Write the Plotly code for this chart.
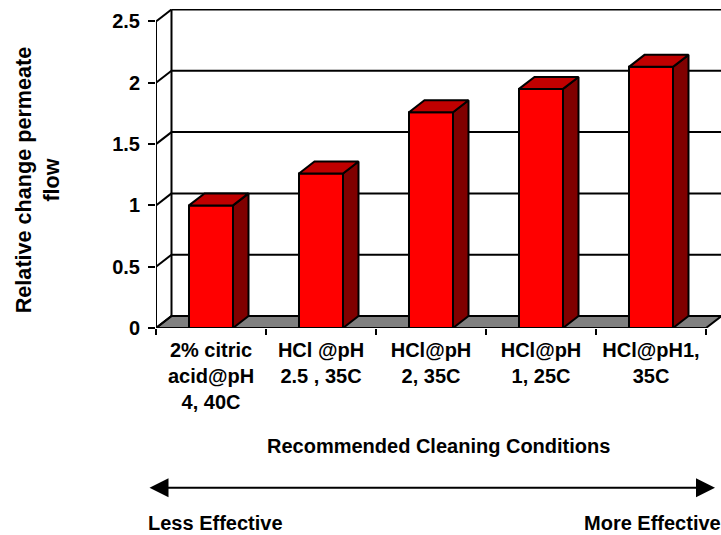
import plotly.graph_objects as go

categories = ["2% citric<br>acid@pH<br>4, 40C", "HCl @pH<br>2.5 , 35C", "HCl@pH<br>2, 35C",
              "HCl@pH<br>1, 25C", "HCl@pH1,<br>35C"]
values = [1.0, 1.26, 1.76, 1.95, 2.13]
y_ticks = [0, 0.5, 1, 1.5, 2, 2.5]
y_labels = ["0", "0.5", "1", "1.5", "2", "2.5"]

W, H = 721, 535
L, R_PX, T, B_PX = 156, 721, 9, 328.5
PX_X = 110.0   # pixels per category
PX_Y = 122.8   # pixels per unit
DX = 15.5 / PX_X
DY = 12.0 / PX_Y
BAR = 0.4
n = len(categories)
xmax = (R_PX - L) / PX_X
ymax = (B_PX - T) / PX_Y
BLACK = "#000000"
LW = 2
TXT = dict(family="Liberation Sans", size=20, color=BLACK, weight="bold")

fig = go.Figure()
centers = [i + 0.5 for i in range(n)]

# front faces
fig.add_trace(go.Bar(x=centers, y=values, width=BAR, marker=dict(color="#ff0000", line=dict(color=BLACK, width=LW)),
                     hoverinfo="skip", showlegend=False))
# side and top faces
for c, v in zip(centers, values):
    r, l = c + BAR / 2, c - BAR / 2
    fig.add_trace(go.Scatter(x=[r, r + DX, r + DX, r, r], y=[0, DY, v + DY, v, 0], mode="lines", fill="toself",
                             fillcolor="#800000", line=dict(color=BLACK, width=LW), hoverinfo="skip",
                             showlegend=False, cliponaxis=False))
    fig.add_trace(go.Scatter(x=[l, r, r + DX, l + DX, l], y=[v, v, v + DY, v + DY, v], mode="lines", fill="toself",
                             fillcolor="#c00000", line=dict(color=BLACK, width=LW), hoverinfo="skip",
                             showlegend=False, cliponaxis=False))

shapes = []
line = dict(color=BLACK, width=LW)
# floor
shapes.append(dict(type="path", layer="below", xref="x", yref="y",
                   path=f"M 0 0 L {n} 0 L {n + DX} {DY} L {DX} {DY} Z", fillcolor="#808080", line=line))
# left side, back wall, gridlines
top = y_ticks[-1]
shapes.append(dict(type="line", layer="below", xref="x", yref="y", x0=0, x1=0, y0=0, y1=top, line=line))
shapes.append(dict(type="line", layer="below", xref="x", yref="y", x0=DX, x1=DX, y0=DY, y1=top + DY, line=line))
for t in y_ticks:
    shapes.append(dict(type="line", layer="below", xref="x", yref="y", x0=0, x1=DX, y0=t, y1=t + DY, line=line))
    if t > 0:
        shapes.append(dict(type="line", layer="below", xref="x", yref="y", x0=DX, x1=n + DX, y0=t + DY, y1=t + DY, line=line))

annotations = [
    dict(text="Relative change permeate<br>flow", xref="paper", yref="paper", x=(37.5 - L) / (R_PX - L),
         y=(B_PX - 181) / (B_PX - T), showarrow=False, textangle=-90, xanchor="center", yanchor="middle",
         font={**TXT, "size": 21.6}),
    dict(text="Recommended Cleaning Conditions", xref="paper", yref="paper", x=(438 - L) / (R_PX - L),
         y=(B_PX - 447) / (B_PX - T), showarrow=False, xanchor="center", yanchor="middle", font=TXT),
    dict(text="Less Effective", xref="paper", yref="paper", x=(146 - L) / (R_PX - L),
         y=(B_PX - 524) / (B_PX - T), showarrow=False, xanchor="left", yanchor="middle", font=TXT),
    dict(text="More Effective", xref="paper", yref="paper", x=(722.5 - L) / (R_PX - L),
         y=(B_PX - 524) / (B_PX - T), showarrow=False, xanchor="right", yanchor="middle", font=TXT),
    dict(text="", xref="paper", yref="paper", x=(715 - L) / (R_PX - L), y=(B_PX - 488.5) / (B_PX - T),
         axref="pixel", ayref="pixel", ax=-(715 - 148), ay=0,
         showarrow=True, arrowhead=2, arrowside="end+start", arrowsize=1.9, arrowwidth=2, arrowcolor=BLACK),
]

fig.update_layout(
    width=W, height=H, autosize=False, paper_bgcolor="white", plot_bgcolor="white", showlegend=False,
    margin=dict(l=L, r=W - R_PX, t=T, b=H - B_PX, pad=0),
    shapes=shapes, annotations=annotations,
    xaxis=dict(range=[0, xmax], tickmode="array", tickvals=centers, ticktext=categories, ticks="",
               showgrid=False, zeroline=False, showline=False, ticklabelstandoff=8,
               minor=dict(tickmode="array", tickvals=list(range(n + 1)), ticks="outside", ticklen=6,
                          tickwidth=2, tickcolor=BLACK, showgrid=False),
               tickfont=TXT),
    yaxis=dict(range=[0, ymax], tickmode="array", tickvals=y_ticks, ticktext=y_labels, ticks="outside", ticklen=7,
               tickwidth=2, tickcolor=BLACK, showgrid=False, zeroline=False, showline=False, ticklabelstandoff=4,
               tickfont=TXT),
    font=dict(family="Liberation Sans"),
)
fig.write_html("out.html", config={"displayModeBar": False},
               post_script="document.body.style.margin='0';")
